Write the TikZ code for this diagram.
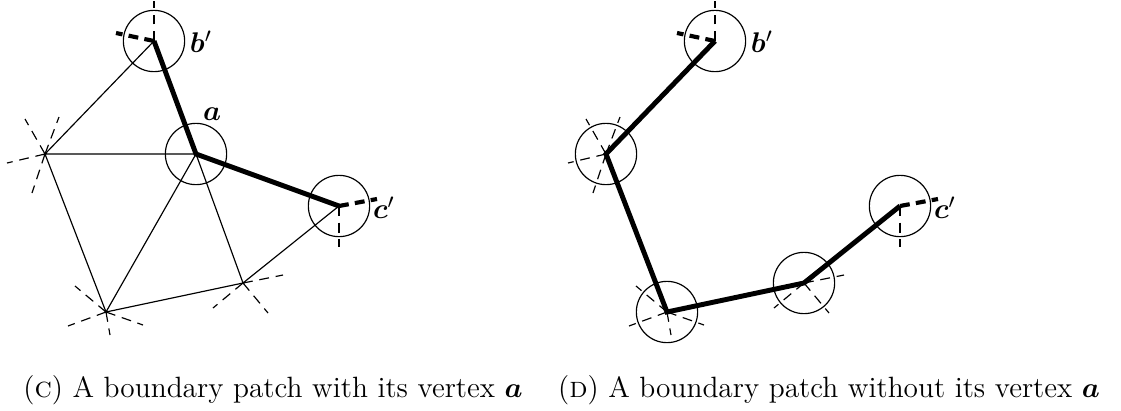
\documentclass[tikz,border=0pt]{standalone}
\usepackage{amsmath}
\usepackage{bm}
\begin{document}
\begin{tikzpicture}[x=0.385pt,y=-0.385pt,
  edge/.style={line width=0.45pt},
  bound/.style={line width=1.9pt},
  stubthin/.style={line width=0.45pt,dash pattern=on 3.8pt off 2.6pt},
  stubthick/.style={line width=1.6pt,dash pattern=on 3.8pt off 2.4pt},
  ring/.style={circle,draw,line width=0.45pt,minimum size=23.6pt,inner sep=0pt},
  lab/.style={inner sep=0pt,font=\fontsize{11.3}{13}\selectfont},
  captext/.style={anchor=base,inner sep=0pt,font=\fontsize{11.3}{13}\selectfont}]
\useasboundingbox (0,0) rectangle (1121,410);
% ---------- left figure (c) ----------
\coordinate (b) at (154,41);
\coordinate (a) at (196,154);
\coordinate (c) at (339,206);
\coordinate (L) at (45,154);
\coordinate (B) at (106,312);
\coordinate (R) at (243,283);
\coordinate (bT) at (154,1);
\coordinate (bS) at (116,33);
\coordinate (cD) at (339,247);
\coordinate (cS) at (377,199);
\coordinate (L1) at (7,163);
\coordinate (L2) at (25,119);
\coordinate (L3) at (59,117);
\coordinate (L4) at (32,193);
\coordinate (B1) at (75,286);
\coordinate (B2) at (68,326);
\coordinate (B3) at (110,335);
\coordinate (B4) at (143,325);
\coordinate (R1) at (283,275);
\coordinate (R2) at (213,308);
\coordinate (R3) at (268,313);
\draw[edge] (b) -- (L) -- (a) (L) -- (B) -- (a) -- (R) -- (B) (R) -- (c);
\node[ring] (ob) at (b) {};
\node[ring] (oa) at (a) {};
\node[ring] (oc) at (c) {};
\draw[bound] (b) -- (a) -- (c);
\draw[stubthin] (b) -- (bT) (c) -- (cD);
\draw[stubthick] (b) -- (bS) (c) -- (cS);
\draw[stubthin] (L) -- (L1) (L) -- (L2) (L) -- (L3) (L) -- (L4);
\draw[stubthin] (B) -- (B1) (B) -- (B2) (B) -- (B3) (B) -- (B4);
\draw[stubthin] (R) -- (R1) (R) -- (R2) (R) -- (R3);
\node[lab] (lb) at (201,42) {$\bm{b}'$};
\node[lab] (la) at (212,114) {$\bm{a}$};
\node[lab] (lc) at (384,208) {$\bm{c}'$};
% ---------- right figure (d) ----------
\begin{scope}[shift={(561,0)}]
\coordinate (rb) at (154,41);
\coordinate (rc) at (339,206);
\coordinate (rL) at (45,154);
\coordinate (rB) at (106,312);
\coordinate (rR) at (243,283);
\coordinate (rbT) at (154,1);
\coordinate (rbS) at (116,33);
\coordinate (rcD) at (339,247);
\coordinate (rcS) at (377,199);
\coordinate (rL1) at (7,163);
\coordinate (rL2) at (25,119);
\coordinate (rL3) at (59,117);
\coordinate (rL4) at (32,193);
\coordinate (rB1) at (75,286);
\coordinate (rB2) at (68,326);
\coordinate (rB3) at (110,335);
\coordinate (rB4) at (143,325);
\coordinate (rR1) at (283,275);
\coordinate (rR2) at (213,308);
\coordinate (rR3) at (268,313);
\node[ring] (rob) at (rb) {};
\node[ring] (roc) at (rc) {};
\node[ring] (roL) at (rL) {};
\node[ring] (roB) at (rB) {};
\node[ring] (roR) at (rR) {};
\draw[bound] (rb) -- (rL) -- (rB) -- (rR) -- (rc);
\draw[stubthin] (rb) -- (rbT) (rc) -- (rcD);
\draw[stubthick] (rb) -- (rbS) (rc) -- (rcS);
\draw[stubthin] (rL) -- (rL1) (rL) -- (rL2) (rL) -- (rL3) (rL) -- (rL4);
\draw[stubthin] (rB) -- (rB1) (rB) -- (rB2) (rB) -- (rB3) (rB) -- (rB4);
\draw[stubthin] (rR) -- (rR1) (rR) -- (rR2) (rR) -- (rR3);
\node[lab] (rlb) at (201,42) {$\bm{b}'$};
\node[lab] (rlc) at (384,208) {$\bm{c}'$};
\end{scope}
% ---------- captions ----------
\node[captext] (capc) at (273,397) {(\textsc{c}) A boundary patch with its vertex $\bm{a}$};
\node[captext] (capd) at (829,397) {(\textsc{d}) A boundary patch without its vertex $\bm{a}$};
\end{tikzpicture}
\end{document}
